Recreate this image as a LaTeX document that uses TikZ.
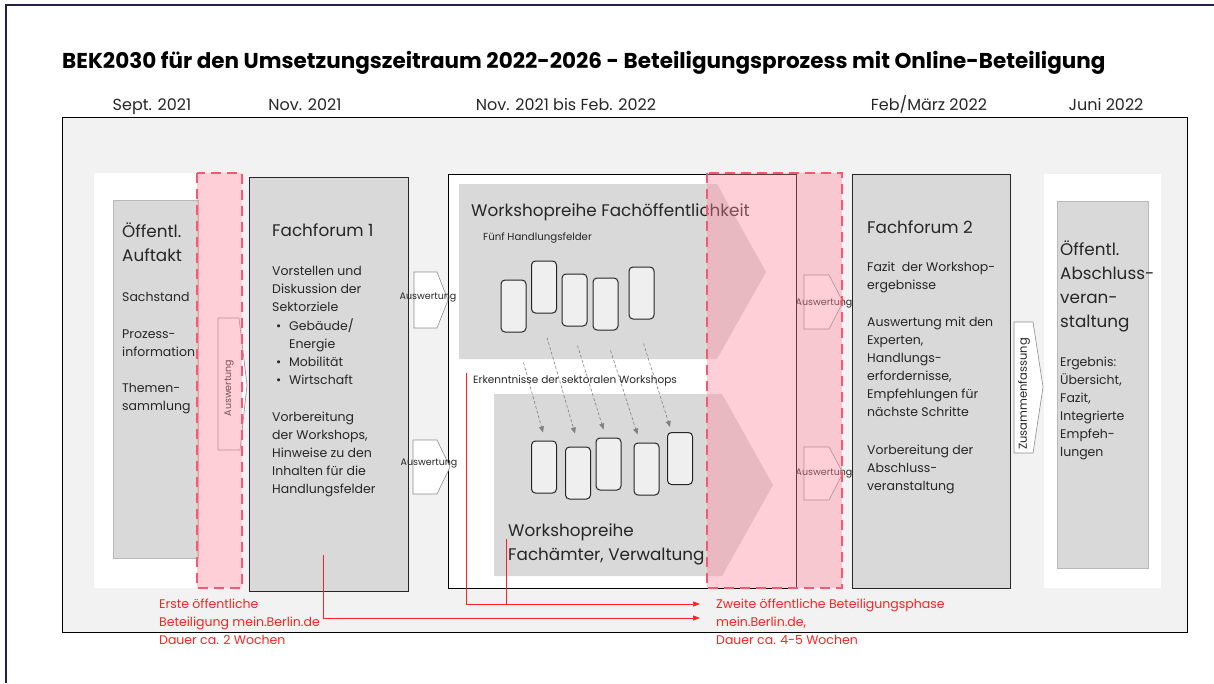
\documentclass[tikz,border=0pt]{standalone}
\usepackage{fontspec}
\setmainfont{Poppins}
\usetikzlibrary{arrows.meta,positioning,calc}
\definecolor{framenavy}{RGB}{32,32,72}
\definecolor{panelgray}{RGB}{242,242,242}
\definecolor{boxgray}{RGB}{217,217,217}
\definecolor{cardgray}{RGB}{239,239,239}
\definecolor{inkgray}{RGB}{38,38,38}
\definecolor{rimgray}{RGB}{185,185,185}
\definecolor{phasepink}{RGB}{255,137,155}
\definecolor{phaseline}{RGB}{255,85,115}
\definecolor{notered}{RGB}{255,32,32}

\begin{document}
\begin{tikzpicture}[x=1pt,y=-1pt,
  txt/.style={anchor=base west,inner sep=0pt,align=left,text=inkgray,
    execute at begin node=\strut},
  top/.style={anchor=north west},
  head/.style={txt,font=\fontsize{16.8}{24}\selectfont},
  body/.style={txt,font=\fontsize{12.5}{18.1}\selectfont},
  tiny/.style={txt,font=\fontsize{10.2}{12}\selectfont},
  date/.style={anchor=base,inner sep=0pt,text=inkgray,font=\fontsize{16}{18}\selectfont},
  blk/.style={anchor=north west,inner sep=0pt,fill=boxgray,line width=0.9pt},
  card/.style={draw=inkgray,fill=cardgray,rounded corners=4pt,line width=1pt,
    minimum width=25,minimum height=52,inner sep=0pt},
  ausw/.style={draw=black!45,fill=white,line width=0.6pt},
  awtxt/.style={font=\fontsize{9.5}{11}\selectfont,text=inkgray,inner sep=0pt},
  phase/.style={fill=phasepink,fill opacity=0.4},
  phaserim/.style={draw=phaseline,dash pattern=on 10pt off 6pt,line width=2.6pt},
  flow/.style={dash pattern=on 3pt off 2pt,draw=black!50,line width=0.6pt,
    -{Triangle[length=6pt,width=5pt]}},
  note/.style={draw=notered,line width=0.7pt},
  notetip/.style={note,-{Triangle[length=7pt,width=5pt]}},
  notetxt/.style={anchor=north west,inner sep=0pt,align=left,text=notered,
    font=\fontsize{12.5}{18}\selectfont,execute at begin node=\strut}]
\useasboundingbox (0,0) rectangle (1214,683);
% frame and title
\draw[framenavy,line width=1.5pt] (1214,5) -- (6,5) -- (6,683);
\node[anchor=base west,inner sep=0pt,font=\bfseries\fontsize{21.5}{26}\selectfont] (title) at (62,68)
  {BEK2030 für den Umsetzungszeitraum 2022-2026 - Beteiligungsprozess mit Online-Beteiligung};
% time line
\node[date] (d1) at (152,110) {Sept. 2021};
\node[date] (d2) at (305,110) {Nov. 2021};
\node[date] (d3) at (566,110) {Nov. 2021 bis Feb. 2022};
\node[date] (d4) at (929,110) {Feb/März 2022};
\node[date] (d5) at (1106,110) {Juni 2022};
% panels
\draw[fill=panelgray,line width=0.8pt] (62,117) rectangle (1187,632);
\fill[white] (94,173) rectangle (242,588);
\fill[white] (1044,174) rectangle (1161,588);
\draw[fill=white,line width=0.8pt] (448,174) rectangle (796,588);
% stages
\node[blk,draw=rimgray,minimum width=85,minimum height=358] (auftakt) at (113,200) {};
\node[blk,draw=inkgray,minimum width=159,minimum height=414] (ff1) at (249,177) {};
\node[blk,draw=inkgray,minimum width=158,minimum height=414] (ff2) at (852,174) {};
\node[blk,draw=rimgray,minimum width=91,minimum height=367] (abschluss) at (1057,201) {};
% workshop series
\fill[boxgray] (459,184) -- (717,184) -- (766,272) -- (717,359) -- (459,359) -- cycle;
\fill[boxgray] (494,394) -- (722,394) -- (773,485) -- (722,576) -- (494,576) -- cycle;
\node[card] (u1) at (513.5,306) {};
\node[card] (u2) at (544,287) {};
\node[card] (u3) at (574.5,300) {};
\node[card] (u4) at (605.5,304) {};
\node[card] (u5) at (641.5,293) {};
\node[card] (l1) at (544,467) {};
\node[card] (l2) at (578,473) {};
\node[card] (l3) at (608.5,464) {};
\node[card] (l4) at (646.5,469) {};
\node[card] (l5) at (680,458.5) {};
\draw[flow] ($(u1.south)+(10,30)$) -- ($(l1.north)+(-1,-8)$);
\draw[flow] ($(u2.south)+(3,24)$) -- ($(l2.north)+(-3,-13)$);
\draw[flow] ($(u3.south)+(3,19)$) -- ($(l3.north)+(-5,-8)$);
\draw[flow] ($(u4.south)+(5,20)$) -- ($(l4.north)+(-9,-8)$);
\draw[flow] ($(u5.south)+(2,24)$) -- ($(l5.north)+(-10,-5)$);
% Auswertung arrows
\draw[ausw] (218,318) -- (239,318) -- (247,385) -- (240,450) -- (218,450) -- cycle;
\node[awtxt,rotate=90] (aw0) at (229,388) {Auswertung};
\draw[ausw] (414,272) -- (437,272) -- (448,300) -- (437,328) -- (414,328) -- cycle;
\node[awtxt] (aw1) at (428,297) {Auswertung};
\draw[ausw] (413,440) -- (437,440) -- (450,467) -- (437,494) -- (413,494) -- cycle;
\node[awtxt] (aw2) at (429,463) {Auswertung};
\draw[ausw] (804,275) -- (829,275) -- (843,302) -- (829,329) -- (804,329) -- cycle;
\node[awtxt] (aw3) at (824,303) {Auswertung};
\draw[ausw] (804,447) -- (829,447) -- (843,473) -- (829,500) -- (804,500) -- cycle;
\node[awtxt] (aw4) at (824,473) {Auswertung};
\draw[ausw] (1014,322) -- (1033,322) -- (1043,387) -- (1033,453) -- (1014,453) -- cycle;
\node[awtxt,rotate=90,font=\fontsize{11.5}{13}\selectfont] (zf) at (1024,394) {Zusammenfassung};
% texts
\node[head,top] (auftaktkopf) at (122,223) {Öffentl.\\Auftakt};
\node[body,top] (auftakttext) at (122,292.3) {Sachstand\\[19pt]Prozess-\\information\\[17pt]Themen-\\sammlung};
\node[head] (ff1kopf) at (272,236) {Fachforum 1};
\node[body,top] (ff1text) at (272,266.3) {Vorstellen und\\Diskussion der\\Sektorziele\\
  \makebox[17pt][l]{\hspace{4pt}\textbullet}Gebäude/\\\hspace*{17pt}Energie\\
  \makebox[17pt][l]{\hspace{4pt}\textbullet}Mobilität\\
  \makebox[17pt][l]{\hspace{4pt}\textbullet}Wirtschaft\\[19pt]
  Vorbereitung\\der Workshops,\\Hinweise zu den\\Inhalten für die\\Handlungsfelder};
\node[head] (wsf) at (471,216) {Workshopreihe Fachöffentlichkeit};
\node[tiny] (fuenf) at (483,240) {Fünf Handlungsfelder};
\node[tiny,font=\fontsize{10.5}{12}\selectfont] (erk) at (473,383) {Erkenntnisse der sektoralen Workshops};
\node[head,top] (wsv) at (508,523.5) {Workshopreihe\\Fachämter, Verwaltung};
\node[head] (ff2kopf) at (867,233) {Fachforum 2};
\node[body,top] (ff2text) at (867,261.5) {Fazit\ \ der Workshop-\\ergebnisse\\[19pt]
  Auswertung mit den\\Experten,\\Handlungs-\\erfordernisse,\\Empfehlungen für\\nächste Schritte\\[19pt]
  Vorbereitung der\\Abschluss-\\veranstaltung};
\node[head,top] (abkopf) at (1060,240.5) {Öffentl.\\Abschluss-\\veran-\\staltung};
\node[body,top] (abtext) at (1060,356.5) {Ergebnis:\\Übersicht,\\Fazit,\\Integrierte\\Empfeh-\\lungen};
% online phases
\fill[phase] (197,173) rectangle (242,588);
\fill[phase] (707,173) rectangle (842,588);
\draw[phaserim] (197,173) rectangle (242,588);
\draw[phaserim] (707,173) rectangle (842,588);
% notes
\node[notetxt] (erste) at (159,598.4) {Erste öffentliche\\Beteiligung mein.Berlin.de\\Dauer ca. 2 Wochen};
\node[notetxt] (zweite) at (716,598.4) {Zweite öffentliche Beteiligungsphase\\mein.Berlin.de,\\Dauer ca. 4-5 Wochen};
\coordinate (z1) at (700,604);
\coordinate (z2) at (700,618);
\coordinate (e1) at (466,373);
\coordinate (e2) at (506,539);
\draw[notetip] ($(ff1.south)+(-6,-37)$) |- (z2);
\draw[notetip] (e1) |- (z1);
\draw[note] (e2) -- (e2 |- z1);
\end{tikzpicture}
\end{document}
